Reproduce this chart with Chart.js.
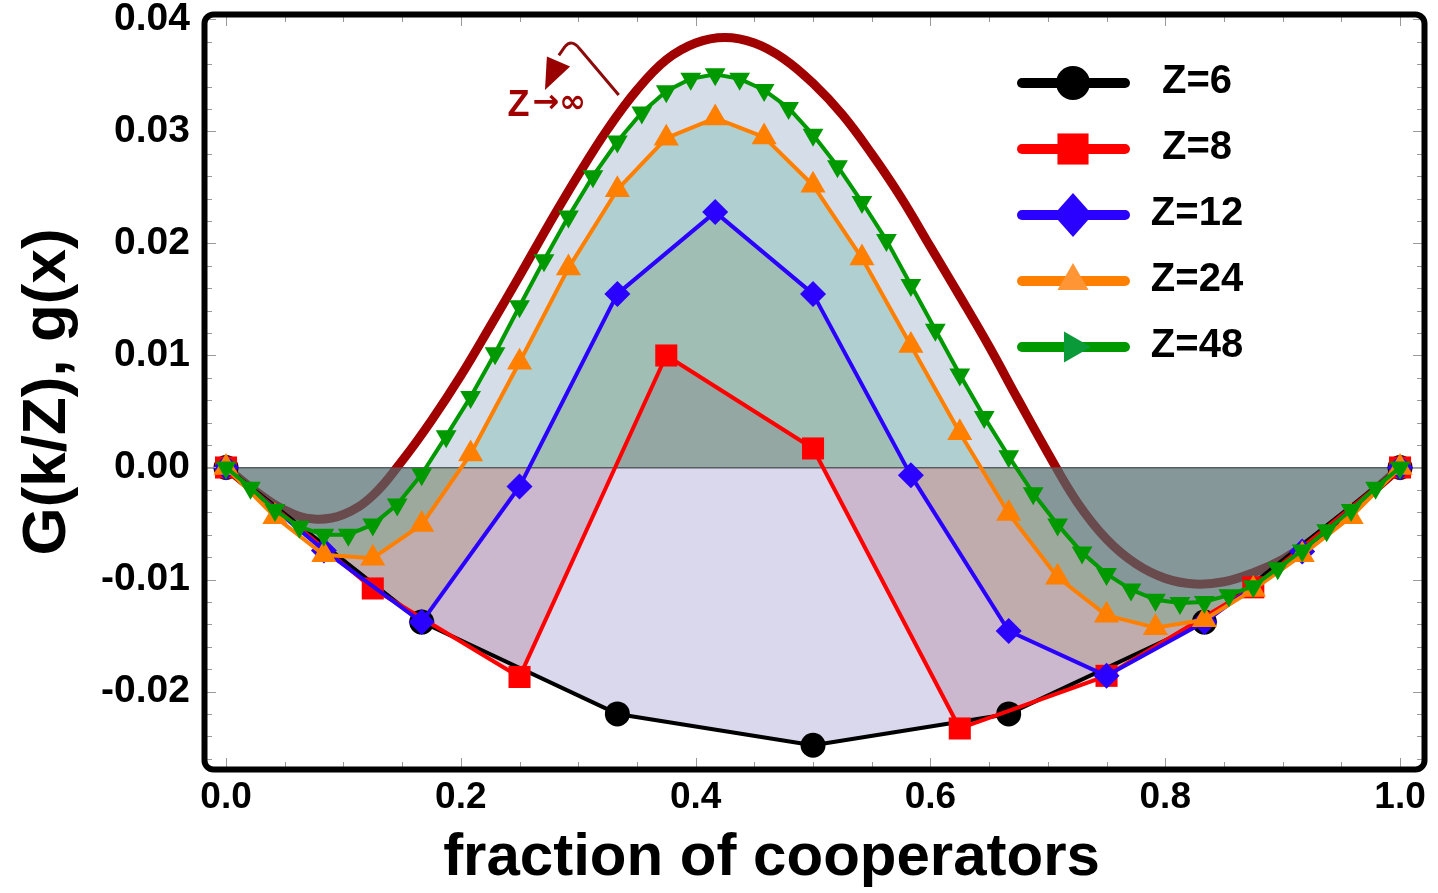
<!DOCTYPE html>
<html>
<head>
<meta charset="utf-8">
<script src="https://cdn.jsdelivr.net/npm/chart.js@4.4.1/dist/chart.umd.min.js"></script>
<style>
html,body{margin:0;padding:0;background:#fff;}
#wrap{width:1438px;height:893px;}
</style>
</head>
<body>
<div id="wrap"><canvas id="c" width="1438" height="893"></canvas></div>
<script>
// ---- data ----
const zLabels = ['Z=6', 'Z=8', 'Z=12', 'Z=24', 'Z=48'];
const zSizes = [6, 8, 12, 24, 48];
const z6Y = [0, -0.0138, -0.0220, -0.0248, -0.0220, -0.0138, 0];
const z8Y = [0, -0.0108, -0.0187, 0.0100, 0.0017, -0.0233, -0.0186, -0.0107, 0];
const z12Y = [0, -0.0074, -0.0138, -0.0017, 0.0155, 0.0228, 0.0155, -0.0007, -0.0146, -0.0186, -0.0138, -0.0075, 0];
const z24Y = [0, -0.0044, -0.0078, -0.0081, -0.0051, 0.0012, 0.0094, 0.0178, 0.0248, 0.0294, 0.0312, 0.0295,
  0.0252, 0.0187, 0.0109, 0.0031, -0.0041, -0.0098, -0.0132, -0.0143, -0.0136, -0.0109, -0.0078, -0.0044, 0];
const z48Y = [0, -0.0018, -0.0038, -0.0053, -0.0060, -0.0060, -0.0051, -0.0033, -0.0006, 0.0028, 0.0063, 0.0102,
  0.0144, 0.0185, 0.0224, 0.0260, 0.0291, 0.0317, 0.0336, 0.0347, 0.0351, 0.0347, 0.0337, 0.0321,
  0.0297, 0.0269, 0.0237, 0.0203, 0.0163, 0.0123, 0.0083, 0.0045, 0.0010, -0.0023, -0.0051, -0.0076,
  -0.0095, -0.0109, -0.0118, -0.0121, -0.0120, -0.0114, -0.0106, -0.0090, -0.0074, -0.0056, -0.0038, -0.0018, 0];
const gX = [0, 0.025, 0.05, 0.075, 0.1, 0.125, 0.15, 0.175, 0.2, 0.225, 0.25, 0.275, 0.3, 0.325, 0.35, 0.375,
  0.4, 0.425, 0.45, 0.475, 0.5, 0.525, 0.55, 0.575, 0.6, 0.625, 0.65, 0.675, 0.7, 0.725, 0.75, 0.775,
  0.8, 0.825, 0.85, 0.875, 0.9, 0.925, 0.95, 0.975, 1];
const gY = [0, -0.0021, -0.0038, -0.0046, -0.0042, -0.0025, 0.0006, 0.0042, 0.0082, 0.0126, 0.0171, 0.0217,
  0.0261, 0.0302, 0.0337, 0.0364, 0.0379, 0.0384, 0.0379, 0.0365, 0.0343, 0.0315, 0.0280, 0.0241,
  0.0197, 0.0153, 0.0108, 0.0060, 0.0013, -0.0031, -0.0064, -0.0086, -0.0099, -0.0104, -0.0102,
  -0.0094, -0.0082, -0.0065, -0.0045, -0.0023, 0];
const xTickStep = 0.2, yTickStep = 0.01;
const annotationZ = 'Z';
const annotationRest = '\u2192\u221E';
const xTitle = 'fraction of cooperators';
const yTitle = 'G(k/Z), g(x)';

// ---- styles ----
const FONT = "'Liberation Sans', Arial, Helvetica, sans-serif";
const lineColors = ['#000000', '#ff0000', '#2a00ff', '#ff8000', '#009900'];
const legendMarkColors = ['#000000', '#ff0000', '#2a00ff', '#ff9535', '#0a9a3a'];
const fillColors = ['rgba(103,99,179,0.25)', 'rgba(163,87,119,0.25)', 'rgba(145,120,40,0.2)',
  'rgba(0,160,88,0.18)', 'rgba(34,76,139,0.19)'];
const pStyles = ['circle', 'rect', 'rectRot', 'triangle', 'triangle'];
const pRot = [0, 0, 0, 0, 180];
const pRad = [12.5, 15.6, 13, 14.5, 12];

const series = [z6Y, z8Y, z12Y, z24Y, z48Y];
const pts = series.map((arr, i) => arr.map((v, k) => ({x: k / zSizes[i], y: v})));
const gPts = gX.map((v, i) => ({x: v, y: gY[i]}));

const datasets = [];
series.forEach((arr, i) => {
  datasets.push({
    label: zLabels[i], data: pts[i],
    borderColor: lineColors[i], borderWidth: 4, borderJoinStyle: 'round',
    pointStyle: pStyles[i], pointRotation: pRot[i], pointRadius: pRad[i],
    pointBackgroundColor: lineColors[i], pointBorderWidth: 0, pointBorderColor: lineColors[i],
    fill: false, tension: 0, order: 4 - i
  });
});
series.forEach((arr, i) => {
  datasets.push({
    label: zLabels[i] + ' fill', data: pts[i],
    borderColor: 'rgba(0,0,0,0)', borderWidth: 0, pointRadius: 0,
    backgroundColor: fillColors[i], fill: 'origin', tension: 0, order: 14 - i
  });
});
datasets.push({
  label: 'g(x)', data: gPts,
  borderColor: '#a00000', borderWidth: 9, pointRadius: 0, fill: false,
  tension: 0.4, order: 20
});

const decor = {
  id: 'decor',
  afterDraw(chart) {
    const {ctx, chartArea: a, scales: {x, y}} = chart;
    ctx.save();
    // inner ticks on all four sides
    ctx.strokeStyle = '#9a9a9a';
    ctx.lineWidth = 1;
    ctx.beginPath();
    for (let i = 0; i <= 20; i++) {
      const px = Math.round(x.getPixelForValue(i * 0.05)) + 0.5;
      const len = (i % 4 === 0) ? 9 : 5;
      ctx.moveTo(px, a.bottom); ctx.lineTo(px, a.bottom - len);
      ctx.moveTo(px, a.top); ctx.lineTo(px, a.top + len);
    }
    for (let i = -13; i <= 20; i++) {
      const py = Math.round(y.getPixelForValue(i * 0.002)) + 0.5;
      const len = (i % 5 === 0) ? 9 : 5;
      ctx.moveTo(a.left, py); ctx.lineTo(a.left + len, py);
      ctx.moveTo(a.right, py); ctx.lineTo(a.right - len, py);
    }
    ctx.stroke();
    // frame
    ctx.strokeStyle = '#000';
    ctx.lineWidth = 6;
    ctx.beginPath();
    ctx.roundRect(a.left - 2.5, a.top - 2.5, a.right - a.left + 5, a.bottom - a.top + 5, 9);
    ctx.stroke();

    // annotation arrow and text (positions given in data units)
    const P = (dx, dy) => [x.getPixelForValue(dx), y.getPixelForValue(dy)];
    ctx.strokeStyle = '#8e0a0a';
    ctx.fillStyle = '#990000';
    ctx.lineWidth = 3;
    ctx.lineJoin = 'round';
    ctx.beginPath();
    let p = P(0.3345, 0.03325); ctx.moveTo(p[0], p[1]);
    p = P(0.3010, 0.03740); ctx.lineTo(p[0], p[1]);
    const c1 = P(0.2945, 0.03830), e1 = P(0.2885, 0.03755);
    ctx.quadraticCurveTo(c1[0], c1[1], e1[0], e1[1]);
    p = P(0.2835, 0.03680); ctx.lineTo(p[0], p[1]);
    ctx.stroke();
    ctx.beginPath();
    p = P(0.2733, 0.03670); ctx.moveTo(p[0], p[1]);
    p = P(0.2931, 0.03580); ctx.lineTo(p[0], p[1]);
    p = P(0.2717, 0.03370); ctx.lineTo(p[0], p[1]);
    ctx.closePath(); ctx.fill();
    ctx.fillStyle = '#a00000';
    ctx.textBaseline = 'middle';
    ctx.textAlign = 'center';
    ctx.font = 'bold 36px ' + FONT;
    p = P(0.2491, 0.03237);
    ctx.fillText(annotationZ, p[0], p[1] + 1);
    ctx.textAlign = 'left';
    ctx.font = "bold 32px 'DejaVu Sans', sans-serif";
    p = P(0.2610, 0.03246);
    ctx.fillText(annotationRest, p[0], p[1]);

    // legend
    const lx0 = a.right - 400, lx1 = a.right - 297, mx = a.right - 349, tx = a.right - 225;
    const legR = [17, 22, 21, 18, 18];
    const legRot = [0, 0, 0, 0, 90];
    for (let i = 0; i < 5; i++) {
      const ly = a.top + 66 + i * 66;
      ctx.strokeStyle = lineColors[i];
      ctx.lineWidth = 10;
      ctx.lineCap = 'round';
      ctx.beginPath(); ctx.moveTo(lx0, ly); ctx.lineTo(lx1, ly); ctx.stroke();
      ctx.fillStyle = legendMarkColors[i];
      drawMark(ctx, pStyles[i], mx, ly, legR[i], legRot[i]);
      ctx.fillStyle = '#000';
      ctx.font = 'bold 40px ' + FONT;
      ctx.textAlign = 'center';
      ctx.textBaseline = 'middle';
      ctx.fillText(zLabels[i], tx, ly - 1);
    }

    // x axis title
    ctx.fillStyle = '#000';
    ctx.font = 'bold 60px ' + FONT;
    ctx.textAlign = 'center';
    ctx.textBaseline = 'middle';
    ctx.fillText(xTitle, (a.left + a.right) / 2 - 43, a.bottom + 91);
    ctx.restore();
  }
};

function drawMark(ctx, style, cx, cy, r, rot) {
  ctx.save();
  ctx.translate(cx, cy);
  ctx.rotate(rot * Math.PI / 180);
  ctx.beginPath();
  if (style === 'circle') {
    ctx.arc(0, 0, r, 0, Math.PI * 2);
  } else if (style === 'rect') {
    const s = r * Math.SQRT1_2;
    ctx.rect(-s, -s, 2 * s, 2 * s);
  } else if (style === 'rectRot') {
    ctx.moveTo(0, -r * 1.05); ctx.lineTo(r * 0.93, 0); ctx.lineTo(0, r * 1.05); ctx.lineTo(-r * 0.93, 0);
    ctx.closePath();
  } else {
    for (let k = 0; k < 3; k++) {
      const ang = -Math.PI / 2 + k * 2 * Math.PI / 3;
      const px = Math.cos(ang) * r, py = Math.sin(ang) * r;
      if (k === 0) ctx.moveTo(px, py); else ctx.lineTo(px, py);
    }
    ctx.closePath();
  }
  ctx.fill();
  ctx.restore();
}

function noPad(s) { s.paddingTop = 0; s.paddingBottom = 0; s.paddingLeft = 0; s.paddingRight = 0; }

new Chart(document.getElementById('c'), {
  type: 'line',
  data: {datasets},
  options: {
    responsive: false,
    animation: false,
    events: [],
    layout: {padding: {top: 17, right: 16, left: 0, bottom: 0}},
    plugins: {
      legend: {display: false},
      tooltip: {enabled: false},
      filler: {drawTime: 'beforeDatasetDraw', propagate: false}
    },
    scales: {
      x: {
        type: 'linear', min: -0.0162, max: 1.0187,
        border: {display: false},
        grid: {display: false, drawTicks: false},
        ticks: {
          stepSize: xTickStep, includeBounds: false, padding: 9, color: '#000',
          font: {family: FONT, size: 37, weight: 'bold'},
          callback: v => v.toFixed(1), maxRotation: 0, autoSkip: false
        },
        afterFit: s => { s.height = 893 - 767; noPad(s); }
      },
      y: {
        type: 'linear', min: -0.02674, max: 0.04022,
        border: {display: false},
        grid: {
          drawTicks: false,
          color: c => (c.tick && Math.abs(c.tick.value) < 1e-9) ? '#555555' : 'rgba(0,0,0,0)',
          lineWidth: 1.5
        },
        ticks: {
          stepSize: yTickStep, includeBounds: false, padding: 17, color: '#000',
          font: {family: FONT, size: 39, weight: 'bold'},
          callback: v => v.toFixed(2), autoSkip: false
        },
        title: {
          display: true, text: yTitle, color: '#000',
          font: {family: FONT, size: 62, weight: 'bold'},
          padding: {top: 11, bottom: 0}
        },
        afterFit: s => { s.width = 207; noPad(s); }
      }
    }
  },
  plugins: [decor]
});
</script>
</body>
</html>
